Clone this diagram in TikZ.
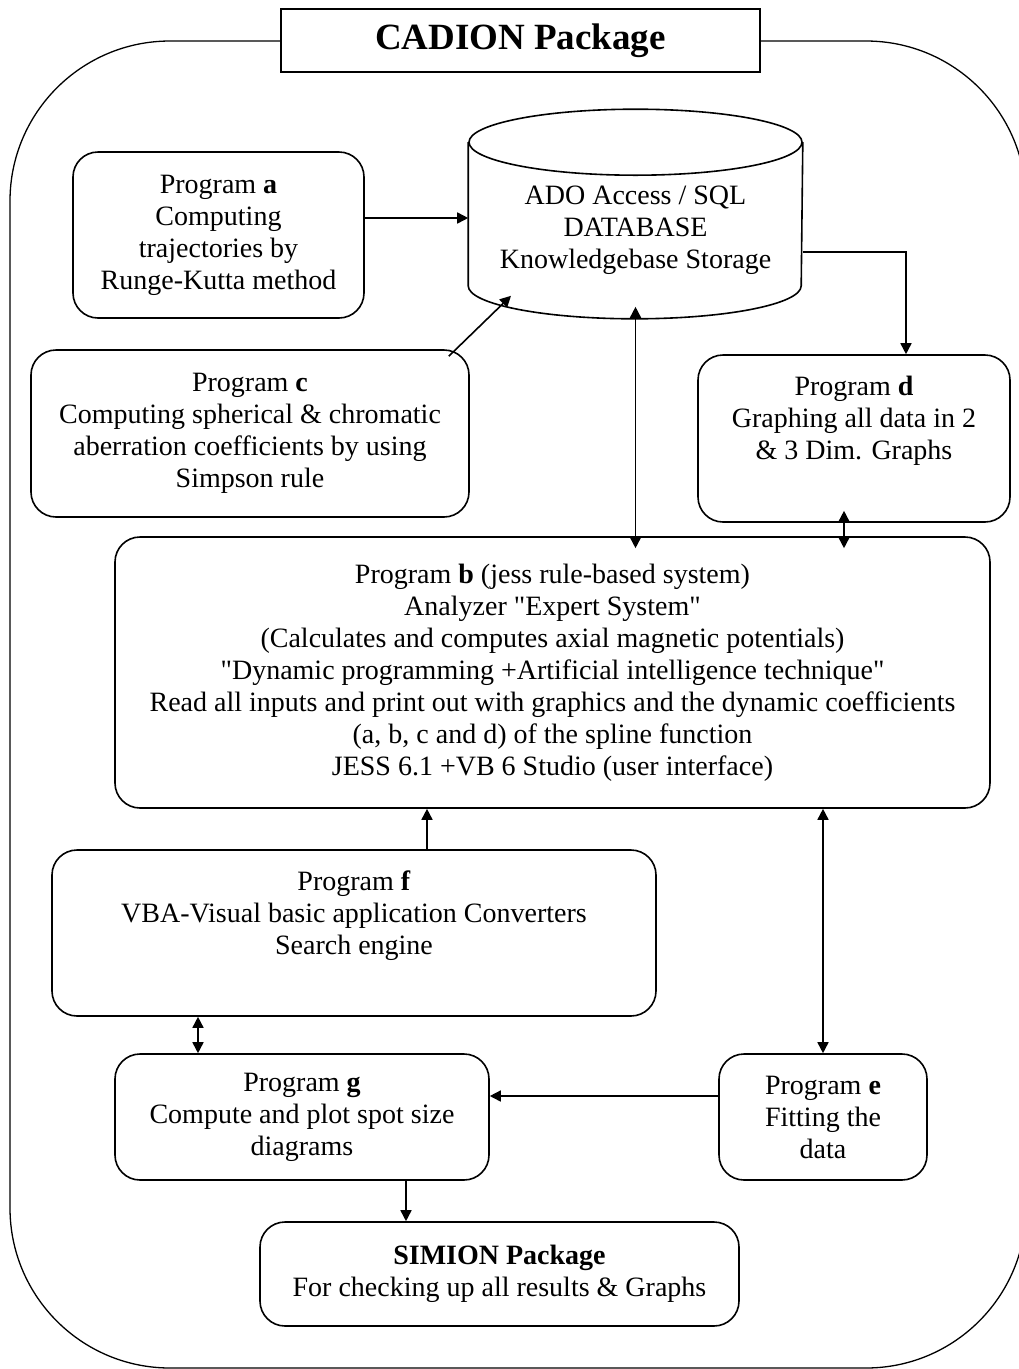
\documentclass[tikz,border=0pt]{standalone}
\usepackage{fontspec}
\setmainfont{Liberation Serif}[Ligatures=TeXOff]
\usetikzlibrary{arrows.meta,calc}
\tikzset{every scope/.style={>={Triangle[length=11pt,width=11pt]},line width=1.6pt}}
\tikzstyle{program_box} =
  [ rectangle
  , draw
  , rounded corners=25pt
  , line width=1.6pt
  , align=center
  , font=\fontsize{28}{32}\selectfont
  ]
\tikzstyle{title_box} =
  [ rectangle
  , draw
  , fill=white
  , line width=1.6pt
  , font=\fontsize{37}{40}\selectfont\bfseries
  ]
\tikzstyle{db_body} =
  [ rectangle
  , align=center
  , font=\fontsize{28}{32}\selectfont
  ]
\def\Cadion{CADION Package}
\def\Database{ADO Access / SQL\\ DATABASE\\ Knowledgebase Storage}
\def\ProgramA{Program \textbf{a}\\ Computing\\ trajectories by\\ Runge-Kutta method}
\def\ProgramC{Program \textbf{c}\\ Computing spherical \& chromatic\\ aberration coefficients by using\\ Simpson rule}
\def\ProgramD{Program \textbf{d}\\ Graphing all data in 2\\ \& 3 Dim. Graphs\\ \strut}
\def\ProgramB{Program \textbf{b} (jess rule-based system)\\ Analyzer "Expert System"\\ (Calculates and computes axial magnetic potentials)\\ "Dynamic programming +Artificial intelligence technique"\\ Read all inputs and print out with graphics and the dynamic coefficients\\ (a, b, c and d) of the spline function\\ JESS 6.1 +VB 6 Studio (user interface)}
\def\ProgramF{Program \textbf{f}\\ VBA-Visual basic application Converters\\ Search engine\\ \strut}
\def\ProgramG{Program \textbf{g}\\ Compute and plot spot size\\ diagrams}
\def\ProgramE{Program \textbf{e}\\ Fitting the\\ data}
\def\Simion{\textbf{SIMION Package}\\ For checking up all results \& Graphs}

\begin{document}
\begin{tikzpicture}[x=1pt,y=1pt]
    \useasboundingbox (0,0) rectangle (1019,-1369);
    \clip (0,0) rectangle (1019,-1369);

    \draw[line width=1.3pt, rounded corners=160pt] (10,-41) rectangle (1026,-1368);

    \node[title_box, minimum width=479pt, minimum height=63pt] (title)  at (520.5,-40.5) {\Cadion};

    \node[db_body, minimum width=333pt, minimum height=175pt]  (db)     at (635.5,-230.5) {\Database};
    \node[program_box, minimum width=291pt, minimum height=166pt] (progA) at (218.5,-235)  {\ProgramA};
    \node[program_box, minimum width=438pt, minimum height=167pt] (progC) at (250,-433.5)  {\ProgramC};
    \node[program_box, minimum width=312pt, minimum height=167pt] (progD) at (854,-438.5)  {\ProgramD};
    \node[program_box, minimum width=875pt, minimum height=271pt] (progB) at (552.5,-672.5) {\ProgramB};
    \node[program_box, minimum width=604pt, minimum height=166pt] (progF) at (354,-933)    {\ProgramF};
    \node[program_box, minimum width=374pt, minimum height=126pt] (progG) at (302,-1117)   {\ProgramG};
    \node[program_box, minimum width=208pt, minimum height=126pt] (progE) at (823,-1117)   {\ProgramE};
    \node[program_box, minimum width=479pt, minimum height=104pt] (simion) at (499.5,-1274) {\Simion};

    % the database drum
    \draw (db.north) ellipse [x radius=166.5pt, y radius=33pt];
    \draw (db.north west) -- ([yshift=33pt]db.south west)
          arc [start angle=180, end angle=360, x radius=166.5pt, y radius=33pt] -- (db.north east);

    \draw[->]  ([yshift=17pt]progA.east) -- ([yshift=17pt]progA.east -| db.west);
    \draw[->]  ([shift={(-21pt,-7pt)}]progC.north east) -- ([shift={(-124.5pt,23pt)}]db.south);
    \draw[<->, shorten <=-12pt, shorten >=-12pt] (db.south) -- (db.south |- progB.north);
    \draw[->]  ([yshift=-21.5pt]db.east) -| ([xshift=52pt]progD.north);
    \draw[<->, shorten <=-12pt, shorten >=-12pt] ([xshift=-10pt]progD.south) -- ([xshift=-10pt]progD.south |- progB.north);

    \draw[->]  ([xshift=73pt]progF.north) -- ([xshift=73pt]progF.north |- progB.south);
    \draw[<->] (progE.north) -- (progE.north |- progB.south);
    \draw[<->] ([xshift=-104pt]progG.north) -- ([xshift=-104pt]progG.north |- progF.south);
    \draw[->]  ([yshift=21pt]progE.west) -- ([yshift=21pt]progE.west -| progG.east);
    \draw[->]  ([xshift=104pt]progG.south) -- ([xshift=104pt]progG.south |- simion.north);
\end{tikzpicture}
\end{document}
